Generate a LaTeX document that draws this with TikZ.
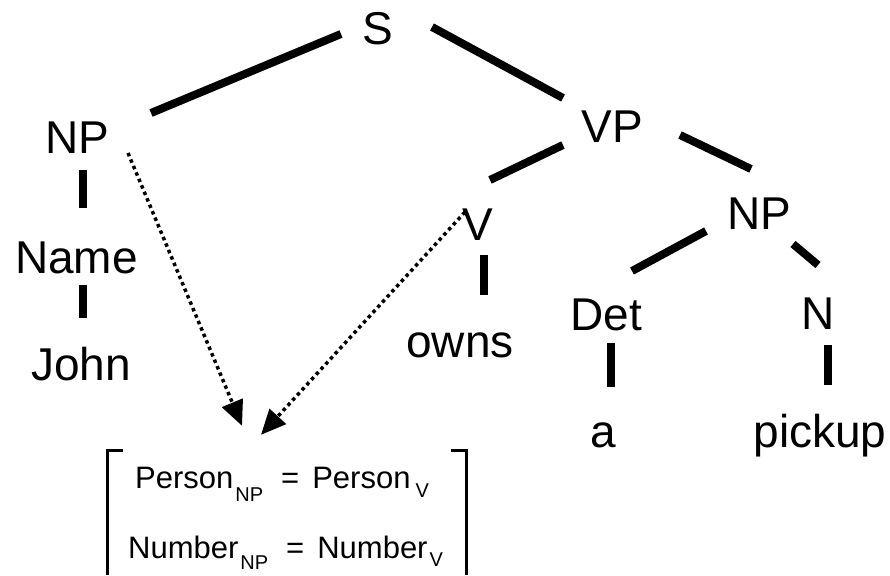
\documentclass[tikz,border=0pt]{standalone}
\usepackage{fontspec}
\setmainfont{Liberation Sans}
\usetikzlibrary{arrows.meta}
% subscript used in the feature rows
\newcommand{\fsub}[2]{\hspace{2pt}\raisebox{-#1pt}{\fontsize{20}{20}\selectfont #2}}
\begin{document}
\begin{tikzpicture}[x=1pt,y=-1pt,
  cat/.style={inner sep=0pt, anchor=base, font=\fontsize{46}{46}\selectfont},
  branch/.style={line width=8pt},
  link/.style={line width=3.5pt, dash pattern=on 3.5pt off 3.5pt,
               -{Triangle[length=25pt,width=22pt]}},
  featrow/.style={inner sep=0pt, anchor=base west, font=\fontsize{31}{31}\selectfont},
  brk/.style={line width=3pt}]
\useasboundingbox (0,0) rectangle (890,575);

% tree labels
\node[cat] (S)      at (378,45)  {S};
\node[cat] (NPl)    at (77,153)  {NP};
\node[cat] (Name)   at (76.5,273) {Name};
\node[cat] (John)   at (81,380)  {John};
\node[cat] (VP)     at (612,142) {VP};
\node[cat] (V)      at (478,240) {V};
\node[cat] (owns)   at (460,357) {owns};
\node[cat] (NPr)    at (759,229) {NP};
\node[cat] (Det)    at (606,330) {Det};
\node[cat] (N)      at (818,329) {N};
\node[cat] (a)      at (603,447) {a};
\node[cat] (pickup) at (820,447) {pickup};

% branches
\draw[branch] ([shift={(-37,-11)}]S.base) -- ([shift={(74,-40)}]NPl.base);
\draw[branch] ([shift={(54,-18)}]S.base) -- ([shift={(-49,-44)}]VP.base);
\draw[branch] ([shift={(-49,3)}]VP.base) -- ([shift={(12,-60)}]V.base);
\draw[branch] ([shift={(68,-7)}]VP.base) -- ([shift={(-8,-60)}]NPr.base);
\draw[branch] ([shift={(-53,2)}]NPr.base) -- ([shift={(26,-59)}]Det.base);
\draw[branch] ([shift={(34,15)}]NPr.base) -- ([shift={(0,-64)}]N.base);
\draw[branch] ([shift={(6,17)}]NPl.base) -- ([shift={(6.5,-65)}]Name.base);
\draw[branch] ([shift={(6.5,12)}]Name.base) -- ([shift={(2,-62)}]John.base);
\draw[branch] ([shift={(6,15)}]V.base) -- ([shift={(24,-62)}]owns.base);
\draw[branch] ([shift={(5,13)}]Det.base) -- ([shift={(8,-60)}]a.base);
\draw[branch] ([shift={(10,16)}]N.base) -- ([shift={(8,-62)}]pickup.base);

% feature structure
\node[inner sep=0pt, minimum width=358pt, minimum height=124pt] (feat) at (287,513) {};
\draw[brk] ([shift={(15,0)}]feat.north west) -- (feat.north west) -- (feat.south west);
\draw[brk] ([shift={(-15,0)}]feat.north east) -- (feat.north east) -- (feat.south east);
\node[featrow] (rowP) at (135,488)
  {Person\fsub{13}{NP}\hspace{18pt}=\hspace{13pt}Person\hspace{3pt}\fsub{9}{V}};
\node[featrow] (rowN) at (128,558)
  {Number\fsub{11}{NP}\hspace{18pt}=\hspace{13pt}Number\fsub{8}{V}};

% agreement links
\draw[link] ([shift={(51,0)}]NPl.base) -- ([shift={(-45,-25)}]feat.north);
\draw[link] ([shift={(-13,-28)}]V.base) -- ([shift={(-26,-16)}]feat.north);
\end{tikzpicture}
\end{document}
